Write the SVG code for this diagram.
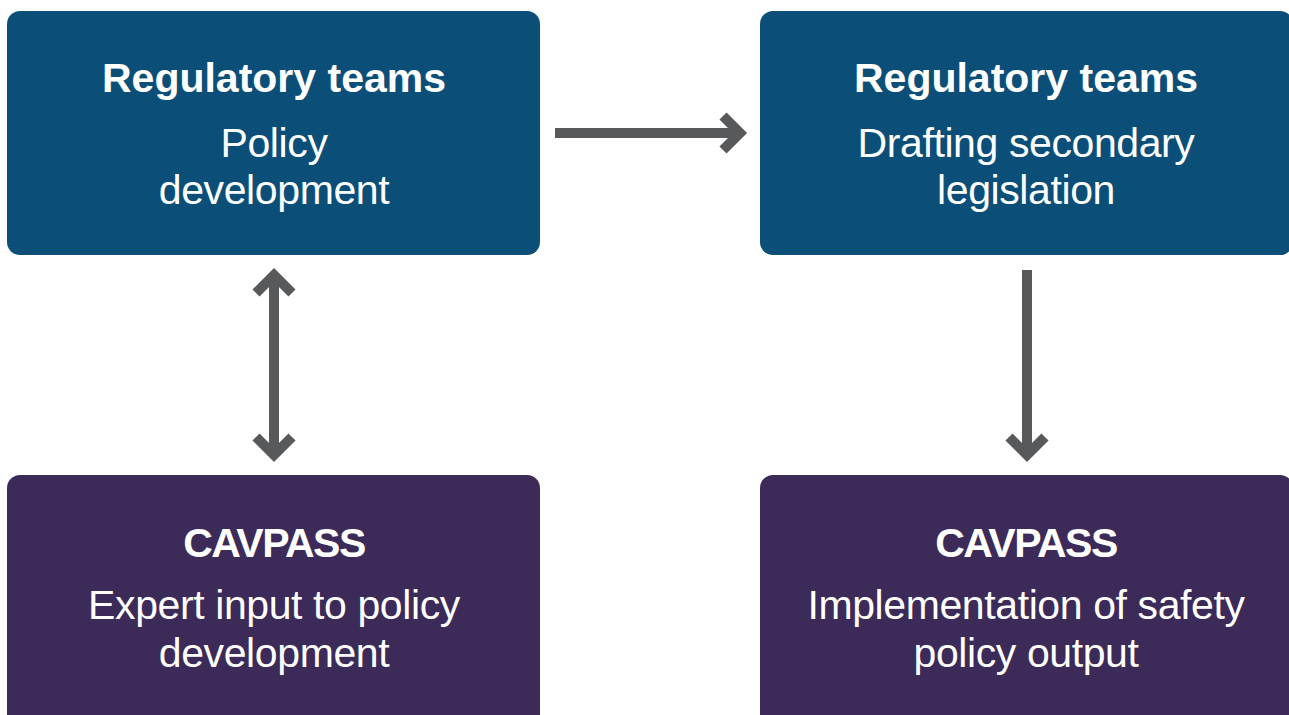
<svg xmlns="http://www.w3.org/2000/svg" width="1289" height="715" viewBox="0 0 1289 715">
<defs>
<style>
.blue{fill:#0B4F79}
.purple{fill:#3C2A58}
.t{font-family:"Liberation Sans",Arial,Helvetica,sans-serif;fill:#FFFFFF;text-anchor:middle;font-size:41px;letter-spacing:-0.4px}
.b{font-weight:bold;letter-spacing:0px}
.cav{letter-spacing:-1.5px}
.c{fill:none;stroke:#58595B;stroke-width:10;stroke-linecap:butt;stroke-linejoin:miter;stroke-miterlimit:10}
</style>
</defs>
<rect width="1289" height="715" fill="#FFFFFF"/>
<g id="node-policy">
<rect class="blue" x="7" y="11" width="533" height="244" rx="13"/>
<text class="t b" x="274" y="92">Regulatory teams</text>
<text class="t" x="274" y="157">Policy</text>
<text class="t" x="274" y="204">development</text>
</g>
<g id="node-drafting">
<rect class="blue" x="760" y="11" width="533" height="244" rx="13"/>
<text class="t b" x="1026" y="92">Regulatory teams</text>
<text class="t" x="1026" y="157">Drafting secondary</text>
<text class="t" x="1026" y="204">legislation</text>
</g>
<g id="node-expert">
<rect class="purple" x="7" y="475" width="533" height="260" rx="13"/>
<text class="t b cav" x="274" y="557">CAVPASS</text>
<text class="t" x="274" y="619">Expert input to policy</text>
<text class="t" x="274" y="667">development</text>
</g>
<g id="node-implementation">
<rect class="purple" x="760" y="475" width="533" height="260" rx="13"/>
<text class="t b cav" x="1026" y="557">CAVPASS</text>
<text class="t" x="1026" y="619">Implementation of safety</text>
<text class="t" x="1026" y="667">policy output</text>
</g>
<g id="connectors">
<path class="c" d="M555 133 H739"/>
<path class="c" d="M723 116 L740 133 L723 150"/>
<path class="c" d="M274 276 V455"/>
<path class="c" d="M256 293 L274 275 L292 293"/>
<path class="c" d="M256 437 L274 455 L292 437"/>
<path class="c" d="M1027 270 V455"/>
<path class="c" d="M1009 437 L1027 455 L1045 437"/>
</g>
</svg>
